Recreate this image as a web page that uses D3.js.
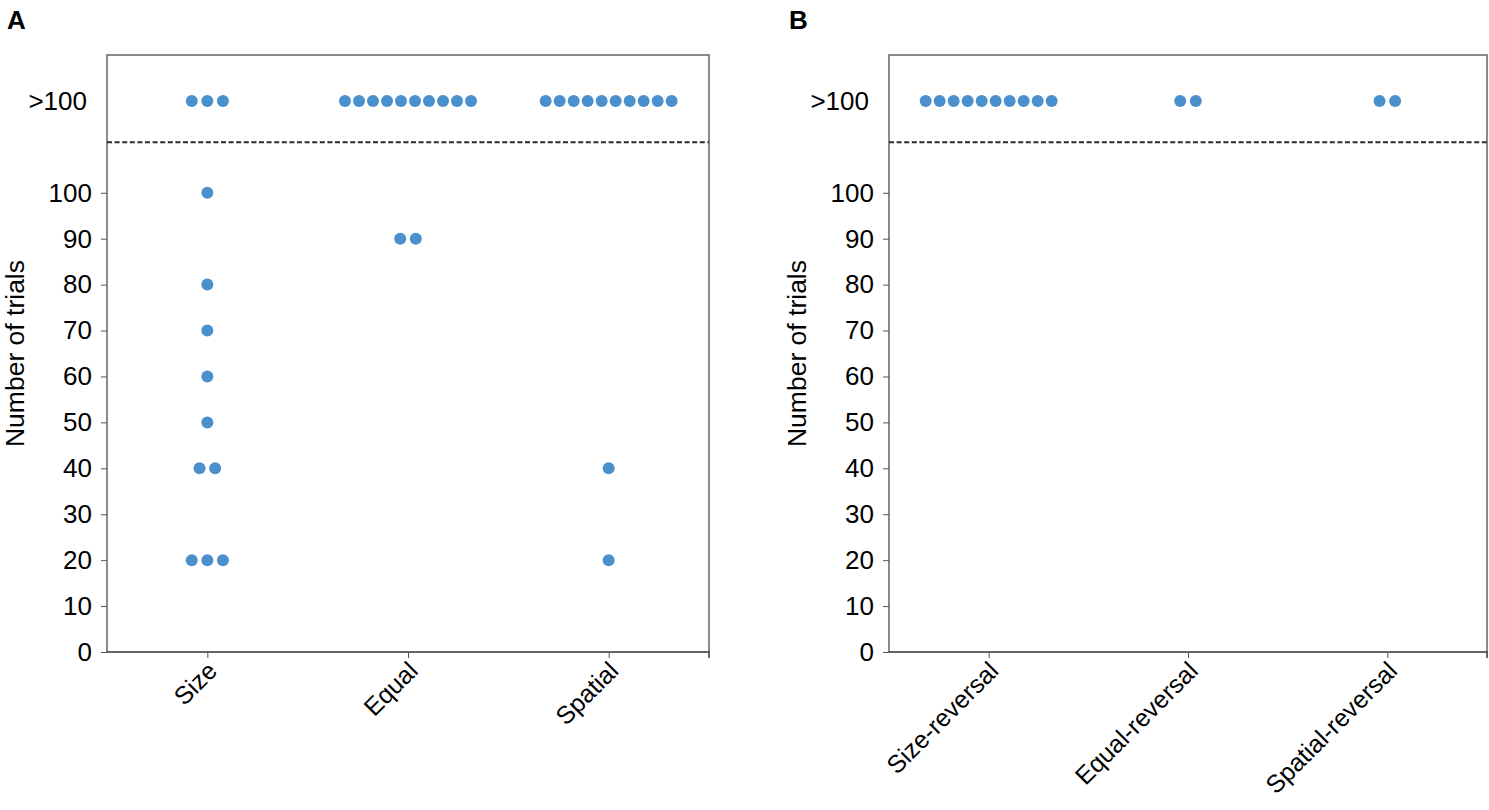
<!DOCTYPE html>
<html>
<head>
<meta charset="utf-8">
<script src="https://cdn.jsdelivr.net/npm/d3@7"></script>
<style>
  body { margin: 0; background: #fff; }
  text { font-family: "Liberation Sans", Arial, sans-serif; }
</style>
</head>
<body>
<div id="chart"></div>
<script>
/* Swarm plots of trials to criterion, two panels */

const catsA = ["Size", "Equal", "Spatial"];
const catsB = ["Size-reversal", "Equal-reversal", "Spatial-reversal"];

// one entry per animal, ">100" = did not reach criterion
const sizeTrials = [">100", ">100", ">100", 100, 80, 70, 60, 50, 40, 40, 20, 20, 20];
const equalTrials = [">100", ">100", ">100", ">100", ">100", ">100", ">100", ">100", ">100", ">100", 90, 90];
const spatialTrials = [">100", ">100", ">100", ">100", ">100", ">100", ">100", ">100", ">100", ">100", 40, 20];

const sizeRevTrials = [">100", ">100", ">100", ">100", ">100", ">100", ">100", ">100", ">100", ">100"];
const equalRevTrials = [">100", ">100"];
const spatialRevTrials = [">100", ">100"];

const yTicks = [0, 10, 20, 30, 40, 50, 60, 70, 80, 90, 100];
const overLabel = ">100";

const width = 1489, height = 810;
const plotTop = 55, plotBottom = 652;
const overValue = 120, breakValue = 111;

const svg = d3.select("#chart")
    .append("svg")
    .attr("width", width)
    .attr("height", height);

const y = d3.scaleLinear()
    .domain([0, 130])
    .range([plotBottom, plotTop]);

function panel(letter, left, right, cats, groups) {
    const g = svg.append("g");

    const x = d3.scalePoint()
        .domain(cats)
        .range([left, right])
        .padding(0.5);

    g.append("text")
        .text(letter)
        .attr("x", left - 100)
        .attr("y", 29)
        .style("font-size", "26px")
        .style("font-weight", "bold");

    // frame: top, left, right
    g.append("path")
        .attr("d", `M${left},${plotBottom}V${plotTop}H${right}V${plotBottom}`)
        .attr("fill", "none")
        .attr("stroke", "#666")
        .attr("stroke-width", 1.5);

    // break line between lower axis and >100 strip
    g.append("line")
        .attr("x1", left).attr("x2", right)
        .attr("y1", y(breakValue)).attr("y2", y(breakValue))
        .attr("stroke", "#2b2b2b")
        .attr("stroke-width", 2.2)
        .attr("stroke-dasharray", "5,2.6");

    const yAxis = g.append("g")
        .attr("transform", `translate(${left},0)`)
        .call(d3.axisLeft(y).tickValues(yTicks).tickSize(6).tickPadding(9));
    yAxis.select(".domain").remove();
    yAxis.selectAll("line").attr("stroke", "#555");
    yAxis.selectAll("text").style("font-size", "26px").attr("fill", "#000")
        .style("font-family", "Liberation Sans, Arial, sans-serif");

    g.append("text")
        .text(overLabel)
        .attr("x", left - 20)
        .attr("y", y(overValue))
        .attr("dy", "0.35em")
        .attr("text-anchor", "end")
        .style("font-size", "26px");

    const xAxis = g.append("g")
        .attr("transform", `translate(0,${plotBottom})`)
        .call(d3.axisBottom(x).tickSize(6).tickFormat(""));
    xAxis.select(".domain").attr("stroke", "#333").attr("stroke-width", 1.5)
        .attr("d", `M${left},0H${right}V6`);
    xAxis.selectAll(".tick line").attr("stroke", "#555");

    g.selectAll(".xlab")
        .data(cats)
        .join("text")
        .attr("class", "xlab")
        .text(d => d)
        .attr("text-anchor", "end")
        .attr("transform", d => `translate(${x(d) - 1},${plotBottom + 8}) rotate(-45)`)
        .attr("dy", "0.7em")
        .style("font-size", "25px");

    g.append("text")
        .text("Number of trials")
        .attr("transform", `translate(${left - 83},${(plotTop + plotBottom) / 2}) rotate(-90)`)
        .attr("text-anchor", "middle")
        .style("font-size", "26.5px");

    // swarm layout: spread identical values sideways
    const pts = [];
    cats.forEach((c, ci) => {
        const vals = groups[ci];
        const counts = d3.rollup(vals, v => v.length, d => d);
        const seen = new Map();
        vals.forEach(v => {
            const n = counts.get(v);
            const k = seen.get(v) || 0;
            seen.set(v, k + 1);
            const step = n > 5 ? 14 : 15.6;
            pts.push({
                cx: x(c) + (k - (n - 1) / 2) * step,
                cy: y(v === overLabel ? overValue : v)
            });
        });
    });

    g.selectAll(".dot")
        .data(pts)
        .join("circle")
        .attr("class", "dot")
        .attr("cx", d => d.cx)
        .attr("cy", d => d.cy)
        .attr("r", 6)
        .attr("fill", "#4a90cc");
}

panel("A", 107, 709, catsA, [sizeTrials, equalTrials, spatialTrials]);
panel("B", 889, 1487, catsB, [sizeRevTrials, equalRevTrials, spatialRevTrials]);
</script>
</body>
</html>
